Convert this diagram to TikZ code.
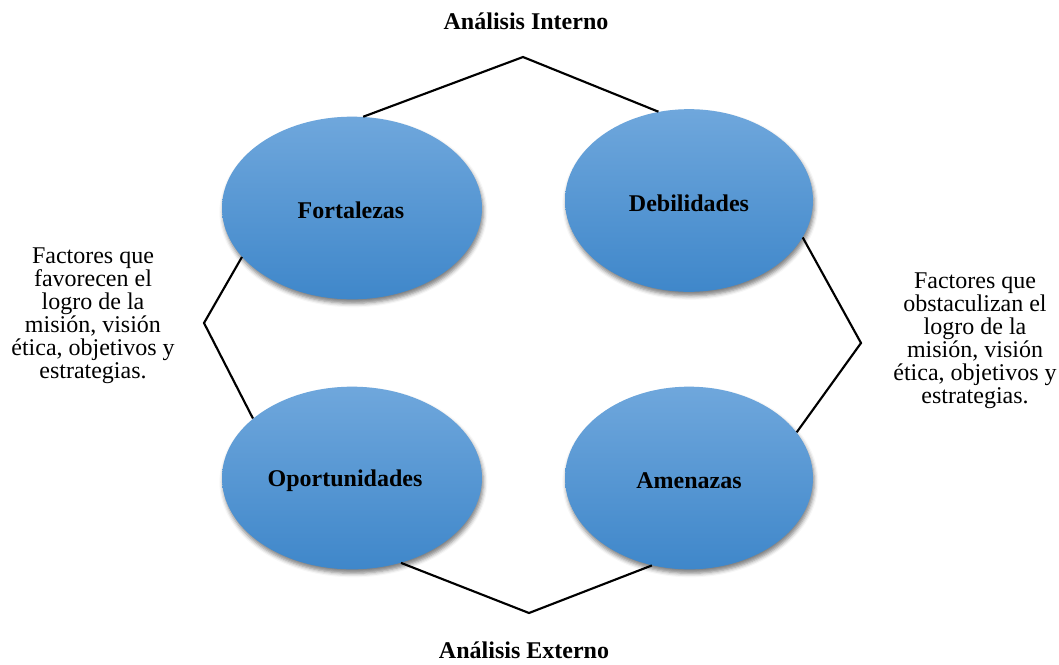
\documentclass[tikz,border=0pt]{standalone}
\usepackage{fontspec}
\setmainfont{Liberation Serif}
\usetikzlibrary{shapes.geometric,shadows.blur}
\definecolor{ebtop}{HTML}{6FA7DC}
\definecolor{ebbot}{HTML}{3F87CA}
\tikzset{
  swot/.style={ellipse, inner sep=0pt, top color=ebtop, bottom color=ebbot,
    blur shadow={shadow xshift=1pt, shadow yshift=-3pt, shadow blur radius=3pt, shadow opacity=50}},
  lbl/.style={font=\fontsize{18}{20}\selectfont\bfseries},
  title/.style={font=\fontsize{18}{20}\selectfont\bfseries, inner sep=0pt},
  side/.style={align=center, font=\fontsize{18}{17.25}\selectfont},
  link/.style={draw=black, line width=1.6pt}
}
\begin{document}
\begin{tikzpicture}[x=0.75pt,y=-0.75pt]
\useasboundingbox (0,0) rectangle (1059,664);
\node[swot, minimum width=195pt, minimum height=137pt] (f) at (352,208) {};
\node[swot, minimum width=186pt, minimum height=137pt] (d) at (689,200.5) {};
\node[swot, minimum width=195pt, minimum height=137pt] (o) at (352,478) {};
\node[swot, minimum width=186pt, minimum height=137pt] (a) at (689,478) {};
\node[lbl] (ft) at (351,210) {Fortalezas};
\node[lbl] (dt) at (689,203) {Debilidades};
\node[lbl] (ot) at (345,481) {Oportunidades};
\node[lbl] (at) at (689,481) {Amenazas};

\node[title, anchor=base] (ai) at (526,29) {Análisis Interno};
\node[title, anchor=base] (ae) at (524,658) {Análisis Externo};

\node[side] (lt) at (93,316) {Factores que\\favorecen el\\logro de la\\misión, visión\\ética, objetivos y\\estrategias.};
\node[side] (rt) at (975,341) {Factores que\\obstaculizan el\\logro de la\\misión, visión\\ética, objetivos y\\estrategias.};

\coordinate (ptop) at (523,57);
\coordinate (pleft) at (204,323);
\coordinate (pright) at (861,343);
\coordinate (pbot) at (529,613);

\draw[link] (f.83.7) -- (ptop) -- (d.109.5);
\draw[link] (f.204.2) -- (pleft) -- (o.149.5);
\draw[link] (d.-18) -- (pright) -- (a.23.1);
\draw[link] (o.-60.7) -- (pbot) -- (a.247.3);
\end{tikzpicture}
\end{document}
